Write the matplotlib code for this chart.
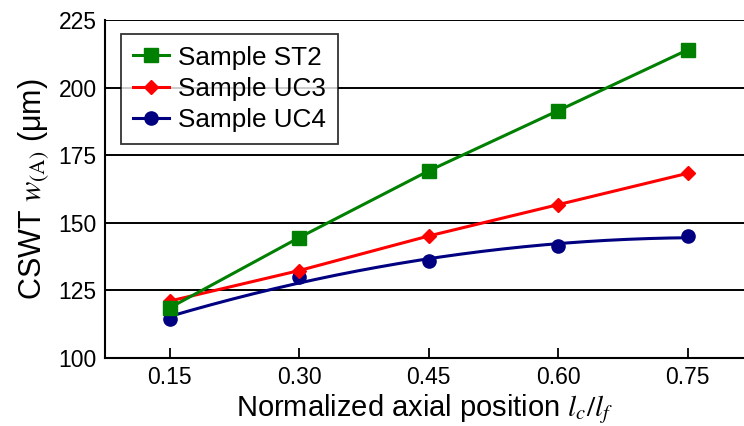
import numpy as np
import matplotlib
matplotlib.use("Agg")
import matplotlib.pyplot as plt
from matplotlib.lines import Line2D

plt.rcParams['font.family'] = ['Liberation Sans', 'DejaVu Sans']
plt.rcParams['mathtext.fontset'] = 'stix'

# Normalized axial position l_c / l_f
positions = [0.15, 0.30, 0.45, 0.60, 0.75]

# CSWT w_(A) in micrometres
st2 = [118.5, 144.5, 169.2, 191.5, 214.0]
uc3 = [121.0, 132.3, 145.1, 156.7, 168.3]
uc4 = [114.4, 129.8, 135.9, 141.2, 145.1]

series_names = ["Sample ST2", "Sample UC3", "Sample UC4"]
x_ticks = [0.15, 0.30, 0.45, 0.60, 0.75]
y_ticks = [100, 125, 150, 175, 200, 225]

fig = plt.figure(figsize=(7.44, 4.26), dpi=100)
ax = fig.add_axes([0.141, 0.160, 0.859, 0.793])

x = np.array(positions)

# UC4 is shown with a smooth quadratic trend through its points
coef = np.polyfit(x, uc4, 2)
xs = np.linspace(x.min(), x.max(), 200)
ax.plot(xs, np.polyval(coef, xs), color='#000080', lw=2.2, zorder=3)
ax.plot(x, uc4, color='#000080', marker='o', ms=9.5, linestyle='none', zorder=3)

h_uc3, = ax.plot(x, uc3, color='#ff0000', lw=2.2, marker='D', ms=7.5, zorder=4)
h_st2, = ax.plot(x, st2, color='#008000', lw=2.2, marker='s', ms=9.5, zorder=5)

# legend handles show line + marker for each series
leg_uc4 = Line2D([], [], color='#000080', lw=2.2, marker='o', ms=9.5)
leg = ax.legend([h_st2, h_uc3, leg_uc4], series_names,
                loc='upper left', bbox_to_anchor=(0.025, 0.959),
                borderaxespad=0, fontsize=18.8, frameon=True, fancybox=False,
                edgecolor='black', handlelength=1.4, handletextpad=0.35,
                labelspacing=0.28, borderpad=0.45)
leg.get_frame().set_linewidth(1.3)
leg.set_zorder(6)

ax.set_xlim(0.075, 0.815)
ax.set_ylim(100, 225)
ax.set_xticks(x_ticks)
ax.set_xticklabels([f"{t:.2f}" for t in x_ticks])
ax.set_yticks(y_ticks)

ax.yaxis.grid(True, color='black', lw=1.4)
ax.set_axisbelow(True)

for side in ['top', 'right']:
    ax.spines[side].set_visible(False)
for side in ['left', 'bottom']:
    ax.spines[side].set_linewidth(1.5)

ax.tick_params(axis='x', direction='in', length=7, width=1.3, labelsize=16.5, pad=6)
ax.tick_params(axis='y', length=0, labelsize=16.5, pad=6)

ax.set_xlabel(r'Normalized axial position $l_c/l_f$', fontsize=21, labelpad=2)
ax.set_ylabel(r'CSWT $w_{\mathrm{(A)}}$ (μm)', fontsize=22, labelpad=5)

fig.savefig('out.png', dpi=100)
